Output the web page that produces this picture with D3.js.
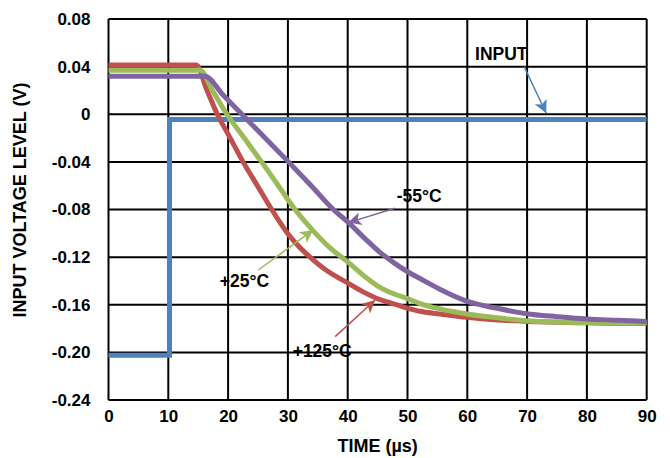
<!DOCTYPE html>
<html>
<head>
<meta charset="utf-8">
<script src="https://cdn.jsdelivr.net/npm/d3@7/dist/d3.min.js"></script>
<style>
  html, body { margin: 0; padding: 0; background: #fff; }
  svg { display: block; font-family: "Liberation Sans", Arial, sans-serif; font-weight: bold; }
</style>
</head>
<body>
<svg id="chart" width="670" height="458"></svg>
<script>
// ---- Data ----
const xTicks = [0, 10, 20, 30, 40, 50, 60, 70, 80, 90];
const yTicks = [0.08, 0.04, 0, -0.04, -0.08, -0.12, -0.16, -0.20, -0.24];
const yTickLabels = ["0.08", "0.04", "0", "-0.04", "-0.08", "-0.12", "-0.16", "-0.20", "-0.24"];

const inputTime  = [0, 10.2, 10.2, 90];
const inputVolts = [-0.2025, -0.2025, -0.0045, -0.0045];

const t125 = [0, 14.7, 16.4, 18.2, 20.3, 22.5, 24.9, 27.3, 28.7, 30.1, 32, 33.7, 36, 38, 40.1, 42.5, 44.8, 47.5, 50.1, 52.1, 55.4, 59.9, 65, 69.9, 75, 80, 85, 90];
const v125 = [0.0414, 0.0414, 0.021, 0.0, -0.0195, -0.040, -0.060, -0.080, -0.091, -0.101, -0.112, -0.120, -0.1295, -0.136, -0.142, -0.149, -0.1545, -0.159, -0.163, -0.1655, -0.1677, -0.1706, -0.1728, -0.174, -0.1748, -0.1752, -0.1755, -0.1755];

const t25 = [0, 15.3, 17.5, 19.8, 22.7, 25.6, 28.4, 31.2, 34.2, 37, 40.1, 42.8, 45.4, 47.8, 50.1, 52.1, 55.4, 59.9, 65, 69.9, 75, 80, 85, 90];
const v25 = [0.037, 0.037, 0.019, 0.0, -0.020, -0.040, -0.060, -0.080, -0.0977, -0.112, -0.1244, -0.136, -0.1454, -0.151, -0.155, -0.159, -0.1635, -0.1677, -0.171, -0.1734, -0.1745, -0.175, -0.1752, -0.1752];

const tM55 = [0, 16.1, 19.2, 22.3, 26.2, 30.1, 33.9, 37.6, 40.1, 42.8, 45.4, 47.8, 50.1, 52.1, 55.4, 59.9, 65, 69.9, 75, 80, 85, 90];
const vM55 = [0.032, 0.032, 0.016, 0.0, -0.020, -0.040, -0.060, -0.080, -0.0908, -0.104, -0.116, -0.125, -0.1325, -0.138, -0.147, -0.157, -0.163, -0.1675, -0.170, -0.172, -0.173, -0.174];

// annotation labels (data units)
const annoText  = ["INPUT", "-55°C", "+25°C", "+125°C"];
const annoTextX = [61.3, 48.2, 18.6, 30.8];
const annoTextY = [0.0456, -0.0739, -0.1455, -0.2038];
const annoFromX = [69.5, 47.9, 25.05, 37.9];
const annoFromY = [0.040, -0.079, -0.1308, -0.1868];
const annoToX   = [73.2, 40.1, 34.25, 44.6];
const annoToY   = [0.0008, -0.091, -0.0972, -0.156];

// ---- Styles ----
const colors = { input: "#4F81BD", c125: "#C0504D", c25: "#9BBB59", m55: "#8064A2" };
const annoColors = [colors.input, colors.m55, colors.c25, colors.c125];

const svg = d3.select("#chart");
const pLeft = 108.5, pRight = 646.7, pTop = 19, pBottom = 400;

const x = d3.scaleLinear().domain([0, 90]).range([pLeft, pRight]);
const y = d3.scaleLinear().domain([-0.24, 0.08]).range([pBottom, pTop]);

// grid
const grid = svg.append("g");
grid.selectAll("line.v").data(xTicks).enter().append("line")
  .attr("x1", d => x(d)).attr("x2", d => x(d))
  .attr("y1", pTop).attr("y2", pBottom)
  .attr("stroke", "#000").attr("stroke-width", 2);
grid.selectAll("line.h").data(yTicks).enter().append("line")
  .attr("y1", d => y(d)).attr("y2", d => y(d))
  .attr("x1", pLeft).attr("x2", pRight)
  .attr("stroke", "#000").attr("stroke-width", 2);

// axes labels via d3 axes
const xAxis = d3.axisBottom(x).tickValues(xTicks).tickSize(0).tickPadding(10).tickFormat(d3.format("d"));
const gx = svg.append("g").attr("transform", `translate(0,${pBottom})`).call(xAxis);
gx.select(".domain").remove();
gx.selectAll("text").attr("font-size", 17).attr("font-family", "Liberation Sans, Arial, sans-serif")
  .attr("font-weight", "bold").attr("fill", "#000");

const yAxis = d3.axisLeft(y).tickValues(yTicks).tickSize(0).tickPadding(18)
  .tickFormat((d, i) => yTickLabels[i]);
const gy = svg.append("g").attr("transform", `translate(${pLeft},0)`).call(yAxis);
gy.select(".domain").remove();
gy.selectAll("text").attr("font-size", 17).attr("font-family", "Liberation Sans, Arial, sans-serif")
  .attr("font-weight", "bold").attr("fill", "#000");

// titles
svg.append("text").attr("x", (pLeft + pRight) / 2).attr("y", 452)
  .attr("text-anchor", "middle").attr("font-size", 18).text("TIME (µs)");
svg.append("text").attr("transform", "translate(26,200) rotate(-90)")
  .attr("text-anchor", "middle").attr("font-size", 18).text("INPUT VOLTAGE LEVEL (V)");

// series
const zip = (ts, vs) => ts.map((t, i) => [t, vs[i]]);
const lineLin = d3.line().x(d => x(d[0])).y(d => y(d[1]));
const lineSmooth = d3.line().x(d => x(d[0])).y(d => y(d[1])).curve(d3.curveMonotoneX);

svg.append("path").datum(zip(inputTime, inputVolts)).attr("d", lineLin)
  .attr("fill", "none").attr("stroke", colors.input).attr("stroke-width", 5);
svg.append("path").datum(zip(t125, v125)).attr("d", lineSmooth)
  .attr("fill", "none").attr("stroke", colors.c125).attr("stroke-width", 5);
svg.append("path").datum(zip(t25, v25)).attr("d", lineSmooth)
  .attr("fill", "none").attr("stroke", colors.c25).attr("stroke-width", 5);
svg.append("path").datum(zip(tM55, vM55)).attr("d", lineSmooth)
  .attr("fill", "none").attr("stroke", colors.m55).attr("stroke-width", 5);

// annotations
const defs = svg.append("defs");
annoColors.forEach((c, i) => {
  defs.append("marker").attr("id", "ah" + i)
    .attr("viewBox", "0 0 10 10").attr("refX", 10).attr("refY", 5)
    .attr("markerWidth", 15).attr("markerHeight", 13)
    .attr("markerUnits", "userSpaceOnUse").attr("orient", "auto")
    .append("path").attr("d", "M0,0 L10,5 L0,10 L2.5,5 Z").attr("fill", c);
});

annoText.forEach((txt, i) => {
  svg.append("line")
    .attr("x1", x(annoFromX[i])).attr("y1", y(annoFromY[i]))
    .attr("x2", x(annoToX[i])).attr("y2", y(annoToY[i]))
    .attr("stroke", annoColors[i]).attr("stroke-width", 1.5)
    .attr("marker-end", `url(#ah${i})`);
  svg.append("text").attr("x", x(annoTextX[i])).attr("y", y(annoTextY[i]))
    .attr("font-size", 17.5).attr("fill", "#000").text(txt);
});
</script>
</body>
</html>
